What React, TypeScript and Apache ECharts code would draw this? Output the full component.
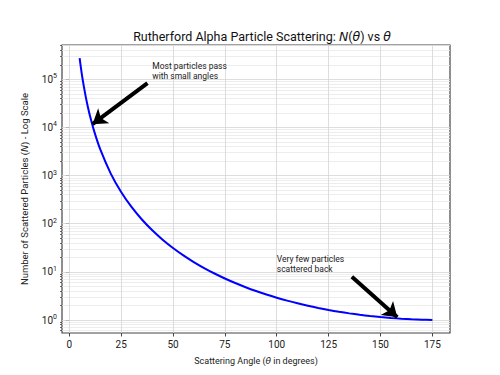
import React, { useEffect, useRef } from "react";
import * as echarts from "echarts";

// Scattering angle (degrees) and number of scattered particles
const angles = [5, 6, 7, 8, 9, 10, 12, 15, 20, 25, 30, 35, 40, 45, 50, 55, 60, 65, 70, 75, 80, 85, 90, 95, 100, 105, 110, 115, 120, 125, 130, 135, 140, 145, 150, 155, 160, 165, 170, 175];
const counts = [276220, 133290, 71990, 42240, 26390, 17330, 8377, 3445, 1100, 455.7, 222.9, 122.3, 73.08, 46.63, 31.35, 22.0, 16.0, 12.0, 9.239, 7.281, 5.858, 4.8, 4.0, 3.384, 2.904, 2.524, 2.221, 1.976, 1.778, 1.615, 1.482, 1.373, 1.283, 1.209, 1.149, 1.101, 1.063, 1.035, 1.015, 1.004];

const xTicks = [0, 25, 50, 75, 100, 125, 150, 175];
const yDecades = [1, 10, 100, 1000, 10000, 100000];
const yMinor: number[] = [];
[0.1, 1, 10, 100, 1000, 10000, 100000].forEach((d) => {
  for (let k = 2; k <= 9; k++) {
    const v = d * k;
    if (v > 0.537 && v < 516000) yMinor.push(v);
  }
});

const arrowSmall = [[37.7, 83000], [11.2, 11700]];
const arrowBack = [[136.2, 7.9], [158.1, 1.14]];
const noteSmall = { text: "Most particles pass\nwith small angles", at: [40, 100000] };
const noteBack = { text: "Very few particles\nscattered back", at: [100, 10] };

const FONT = "Roboto";

export default function App() {
  const ref = useRef<HTMLDivElement>(null);
  useEffect(() => {
    if (!ref.current) return;
    const chart = echarts.init(ref.current, undefined, { renderer: "svg" });
    const gridLineStyle = { color: "#d4d4d4", width: 0.8, type: "solid" as const };
    const minorLineStyle = { color: "#e8e8e8", width: 0.8, type: "solid" as const };
    const supRich = {
      b: { fontSize: 10, color: "#222", fontFamily: FONT },
      s: { fontSize: 7, color: "#222", fontFamily: FONT, padding: [0, 0, 6, 0] },
    };
    const noteLabel = (t: string) => ({
      show: true,
      formatter: t,
      position: [0, 0],
      align: "left",
      verticalAlign: "bottom",
      offset: [0, 2],
      fontSize: 8.5,
      lineHeight: 10,
      color: "#222",
      fontFamily: FONT,
    });
    chart.setOption({
      animation: false,
      title: {
        text: "Rutherford Alpha Particle Scattering: {i|N}({i|θ}) vs {i|θ}",
        left: 257,
        top: 25,
        textAlign: "center",
        textStyle: {
          fontSize: 12.5,
          fontWeight: "normal",
          color: "#111",
          fontFamily: FONT,
          rich: { i: { fontSize: 12.5, fontStyle: "italic", color: "#111", fontFamily: "DejaVu Sans" } },
        },
      },
      grid: { left: 62, right: 50, top: 45, bottom: 42, show: true, borderColor: "#444", borderWidth: 1.2, backgroundColor: "transparent" },
      xAxis: {
        type: "value",
        min: -3.5,
        max: 183.5,
        name: "Scattering Angle ({i|θ} in degrees)",
        nameLocation: "middle",
        nameGap: 23,
        nameTextStyle: {
          fontSize: 9,
          color: "#222",
          fontFamily: FONT,
          rich: { i: { fontSize: 9, fontStyle: "italic", color: "#222", fontFamily: "DejaVu Sans" } },
        },
        axisLine: { show: false },
        splitLine: { show: false },
        axisTick: { show: true, customValues: xTicks, length: 3.5, lineStyle: { color: "#444", width: 1 } },
        axisLabel: { customValues: xTicks, fontSize: 10, color: "#222", fontFamily: FONT, margin: 6 },
      },
      yAxis: [
        {
          type: "log",
          logBase: 10,
          min: 0.537,
          max: 516000,
          name: "Number of Scattered Particles ({i|N}) - Log Scale",
          nameLocation: "middle",
          nameGap: 33,
          nameTextStyle: {
            fontSize: 9.5,
            color: "#222",
            fontFamily: FONT,
            rich: { i: { fontSize: 9.5, fontStyle: "italic", color: "#222", fontFamily: "DejaVu Sans" } },
          },
          axisLine: { show: false },
          splitLine: { show: false },
          axisTick: { show: true, customValues: yDecades, length: 3.5, lineStyle: { color: "#444", width: 1 } },
          axisLabel: {
            customValues: yDecades,
            margin: 5,
            formatter: (v: number) => `{b|10}{s|${Math.round(Math.log10(v))}}`,
            rich: supRich,
          },
        },
        {
          type: "log",
          logBase: 10,
          min: 0.537,
          max: 516000,
          position: "left",
          axisLine: { show: false },
          splitLine: { show: false },
          axisTick: { show: true, customValues: yMinor, length: 2, lineStyle: { color: "#444", width: 0.8 } },
          axisLabel: { show: false },
        },
      ],
      series: [
        {
          type: "line",
          data: [],
          z: 1,
          silent: true,
          markLine: {
            silent: true,
            z: 1,
            symbol: ["none", "none"],
            label: { show: false },
            animation: false,
            data: [
              ...yMinor.map((v) => ({ yAxis: v, lineStyle: minorLineStyle })),
              ...yDecades.map((v) => ({ yAxis: v, lineStyle: gridLineStyle })),
              ...xTicks.map((v) => ({ xAxis: v, lineStyle: gridLineStyle })),
            ],
          },
        },
        {
          type: "line",
          z: 3,
          data: angles.map((a, i) => [a, counts[i]]),
          showSymbol: false,
          smooth: 0.3,
          lineStyle: { color: "#0000ff", width: 2 },
        },
        {
          type: "line",
          data: [],
          z: 4,
          silent: true,
          markLine: {
            silent: true,
            z: 6,
            symbol: ["none", "arrow"],
            symbolSize: 14,
            label: { show: false },
            lineStyle: { color: "#000", width: 4, type: "solid" },
            data: [
              [{ coord: arrowSmall[0] }, { coord: arrowSmall[1] }],
              [{ coord: arrowBack[0] }, { coord: arrowBack[1] }],
            ],
          },
          markPoint: {
            silent: true,
            z: 6,
            symbol: "circle",
            symbolSize: 0,
            data: [
              { coord: noteSmall.at, label: noteLabel(noteSmall.text) },
              { coord: noteBack.at, label: noteLabel(noteBack.text) },
            ],
          },
        },
      ],
    });
    return () => chart.dispose();
  }, []);
  return <div ref={ref} style={{ position: "fixed", left: 0, top: 0, width: 500, height: 375, background: "#fff" }} />;
}
